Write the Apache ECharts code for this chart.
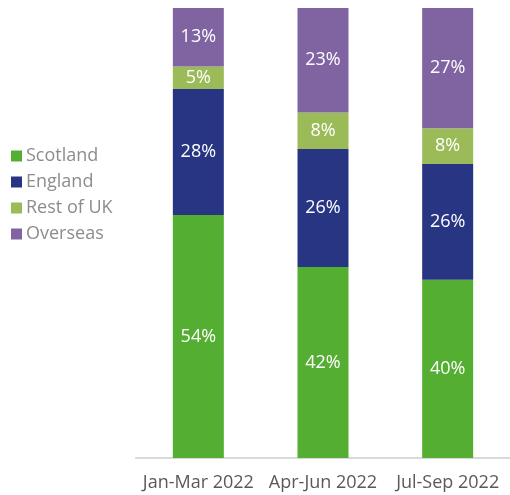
<!DOCTYPE html>
<html lang="en">
  <head>
    <meta charset="UTF-8" />
    <title>origin share</title>
    <style>
      html, body { margin: 0; padding: 0; background: #fff; }
      #chart { width: 510px; height: 495px; }
    </style>
  </head>
  <body>
    <div id="chart"></div>
    <script src="https://cdn.jsdelivr.net/npm/echarts@6/dist/echarts.min.js"></script>
    <script>
      const quarters = ["Jan-Mar 2022", "Apr-Jun 2022", "Jul-Sep 2022"];
      const scotland = [54, 42, 40];
      const england = [28, 26, 26];
      const restOfUK = [5, 8, 8];
      const overseas = [13, 23, 27];

      const names = ["Scotland", "England", "Rest of UK", "Overseas"];
      const colours = ["#54ae32", "#283583", "#9bbb59", "#8064a2"];
      const groups = [scotland, england, restOfUK, overseas];

      // rounded shares don't always add to 100, so scale each bar to full height
      const totals = quarters.map((q, i) => groups.reduce((s, g) => s + g[i], 0));

      const chart = echarts.init(document.getElementById("chart"));
      chart.setOption({
        animation: false,
        textStyle: { fontFamily: "Open Sans" },
        legend: {
          orient: "vertical",
          left: 6,
          top: 142,
          itemWidth: 11,
          itemHeight: 11,
          itemGap: 8,
          icon: "rect",
          data: names,
          textStyle: { color: "#8c8c8c", fontSize: 18, padding: [0, 0, 0, -1] },
        },
        grid: { left: 136, width: 377, top: 8, bottom: 37 },
        xAxis: {
          type: "category",
          data: quarters,
          axisTick: { show: false },
          axisLine: { lineStyle: { color: "#d9d9d9", width: 2 } },
          axisLabel: { color: "#595959", fontSize: 18, margin: 16, interval: 0 },
        },
        yAxis: { type: "value", min: 0, max: 100, show: false },
        series: groups.map((g, k) => ({
          name: names[k],
          type: "bar",
          stack: "all",
          barWidth: 51,
          itemStyle: { color: colours[k] },
          data: g.map((v, i) => ({ value: (v / totals[i]) * 100, raw: v })),
          label: {
            show: true,
            color: "#fff",
            fontSize: 18,
            formatter: (p) => p.data.raw + "%",
          },
        })),
      });
    </script>
  </body>
</html>
